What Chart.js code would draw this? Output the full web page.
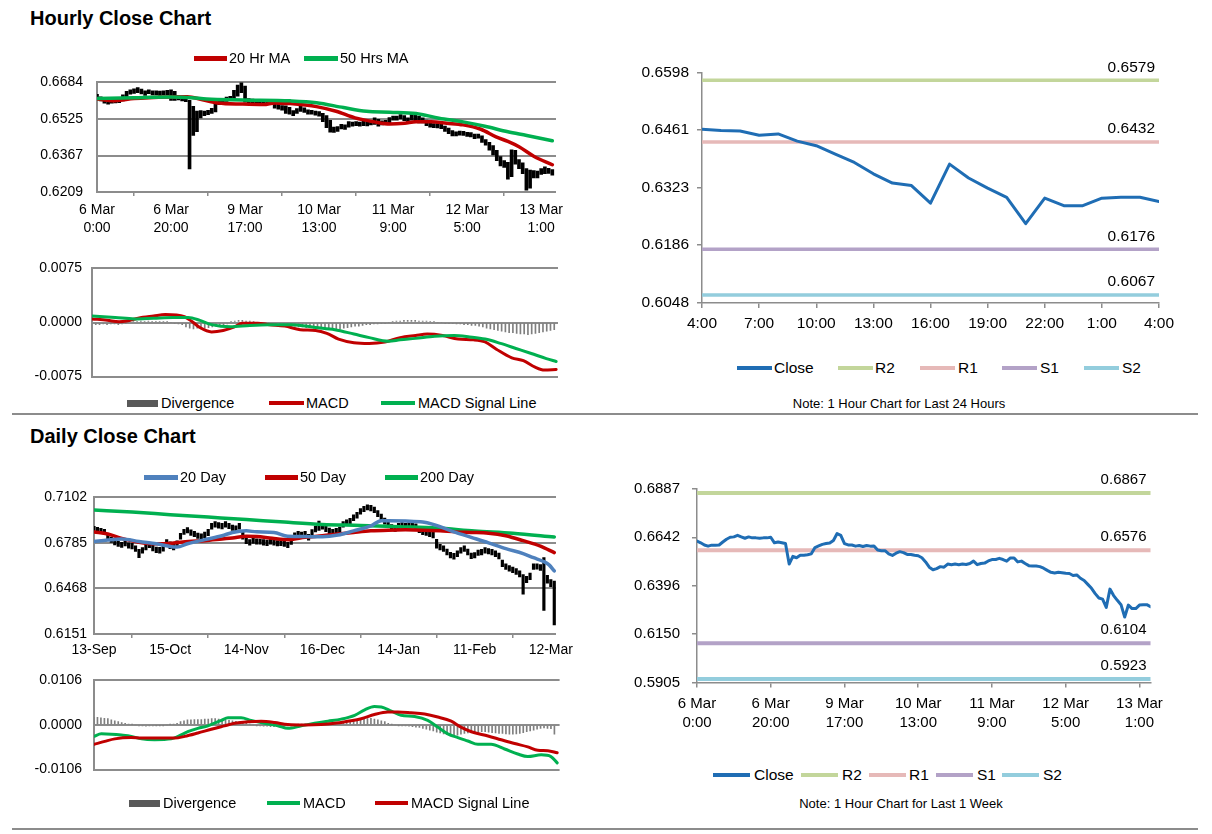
<!DOCTYPE html>
<html><head><meta charset="utf-8">
<script src="https://cdn.jsdelivr.net/npm/chart.js@4"></script>
<style>
body{margin:0;background:#fff;width:1212px;height:834px;position:relative;overflow:hidden;font-family:"Liberation Sans",Arial,sans-serif;color:#000}
.abs{position:absolute}
canvas{position:absolute}
.title{position:absolute;font-weight:bold;font-size:20px;line-height:20px;white-space:nowrap}
.lg{position:absolute;white-space:nowrap}
.note{position:absolute;white-space:nowrap;font-size:13px;line-height:13px;transform:translateX(-50%)}
</style></head><body>
<div class="title" style="left:30px;top:8px">Hourly Close Chart</div>
<div class="title" style="left:30px;top:426px">Daily Close Chart</div>
<div class="abs" style="left:12px;top:413px;width:1186px;height:2px;background:#8c8c8c"></div>
<div class="abs" style="left:12px;top:828px;width:1186px;height:2px;background:#8c8c8c"></div>
<div class="note" style="left:899px;top:397px">Note: 1 Hour Chart for Last 24 Hours</div>
<div class="note" style="left:901px;top:797px">Note: 1 Hour Chart for Last 1 Week</div>
<script>
// ================= DATA =================
// Hourly (6 Mar 0:00 -> 13 Mar 4:00)
const hourTickLabels = [['6 Mar','0:00'],['6 Mar','20:00'],['9 Mar','17:00'],['10 Mar','13:00'],['11 Mar','9:00'],['12 Mar','5:00'],['13 Mar','1:00']];
const hourTickStep = 20;
const hourlyClose = [
0.6623,0.6614,0.6603,0.6597,0.6602,0.6602,0.6603,0.6618,0.6632,0.6642,
0.6644,0.6652,0.6644,0.6637,0.6644,0.6639,0.6639,0.6637,0.6639,0.6639,
0.6642,0.6614,0.6618,0.6614,0.6610,0.6506,0.6545,0.6538,0.6551,0.6551,
0.6553,0.6558,0.6590,0.6598,0.6606,0.6610,0.6613,0.6626,0.6661,0.6652,
0.6610,0.6603,0.6603,0.6597,0.6600,0.6595,0.6600,0.6597,0.6598,0.6577,
0.6574,0.6574,0.6558,0.6550,0.6561,0.6569,0.6564,0.6555,0.6555,0.6551,
0.6548,0.6538,0.6517,0.6490,0.6477,0.6483,0.6493,0.6490,0.6506,0.6503,
0.6506,0.6503,0.6506,0.6504,0.6509,0.6521,0.6503,0.6509,0.6511,0.6522,
0.6529,0.6529,0.6535,0.6529,0.6521,0.6537,0.6537,0.6517,0.6521,0.6509,
0.6498,0.6496,0.6496,0.6493,0.6485,0.6474,0.6464,0.6461,0.6464,0.6462,
0.6459,0.6458,0.6448,0.6451,0.6434,0.6423,0.6403,0.6383,0.6356,0.6334,
0.6328,0.6286,0.6379,0.6346,0.6322,0.6300,0.6237,0.6298,0.6280,0.6280,
0.6298,0.6300,0.6300,0.6290];
const hourlyHigh = [
0.6632,0.6622,0.6612,0.6606,0.6610,0.6611,0.6616,0.6630,0.6645,0.6652,
0.6656,0.6662,0.6655,0.6648,0.6652,0.6648,0.6647,0.6646,0.6648,0.6650,
0.6652,0.6645,0.6626,0.6624,0.6620,0.6606,0.6580,0.6560,0.6562,0.6560,
0.6563,0.6572,0.6601,0.6608,0.6615,0.6620,0.6624,0.6650,0.6672,0.6690,
0.6668,0.6614,0.6612,0.6607,0.6610,0.6604,0.6610,0.6606,0.6608,0.6600,
0.6584,0.6582,0.6576,0.6562,0.6570,0.6580,0.6574,0.6565,0.6563,0.6560,
0.6557,0.6550,0.6540,0.6520,0.6490,0.6492,0.6502,0.6500,0.6514,0.6512,
0.6514,0.6512,0.6515,0.6513,0.6518,0.6530,0.6524,0.6517,0.6520,0.6531,
0.6538,0.6538,0.6545,0.6540,0.6530,0.6546,0.6547,0.6538,0.6530,0.6521,
0.6510,0.6505,0.6505,0.6502,0.6495,0.6486,0.6475,0.6470,0.6473,0.6472,
0.6468,0.6467,0.6460,0.6460,0.6452,0.6436,0.6424,0.6410,0.6390,0.6362,
0.6345,0.6338,0.6392,0.6390,0.6350,0.6335,0.6310,0.6304,0.6302,0.6300,
0.6310,0.6318,0.6312,0.6306];
const hourlyLow = [
0.6612,0.6604,0.6594,0.6590,0.6594,0.6595,0.6596,0.6604,0.6620,0.6633,
0.6636,0.6640,0.6634,0.6628,0.6635,0.6630,0.6630,0.6628,0.6630,0.6630,
0.6606,0.6606,0.6608,0.6604,0.6600,0.6309,0.6454,0.6470,0.6530,0.6540,
0.6544,0.6550,0.6556,0.6588,0.6596,0.6602,0.6605,0.6612,0.6624,0.6640,
0.6598,0.6594,0.6592,0.6588,0.6590,0.6586,0.6591,0.6588,0.6572,0.6568,
0.6564,0.6550,0.6546,0.6540,0.6550,0.6558,0.6554,0.6546,0.6546,0.6542,
0.6538,0.6514,0.6488,0.6468,0.6467,0.6472,0.6482,0.6480,0.6490,0.6494,
0.6496,0.6494,0.6497,0.6495,0.6500,0.6502,0.6494,0.6500,0.6502,0.6510,
0.6520,0.6520,0.6526,0.6518,0.6512,0.6520,0.6515,0.6508,0.6508,0.6496,
0.6490,0.6488,0.6487,0.6484,0.6472,0.6462,0.6452,0.6452,0.6455,0.6454,
0.6450,0.6448,0.6440,0.6442,0.6424,0.6412,0.6390,0.6370,0.6345,0.6322,
0.6315,0.6265,0.6275,0.6330,0.6310,0.6288,0.6217,0.6226,0.6270,0.6270,
0.6285,0.6288,0.6290,0.6282];
const ma20Hr = [[0,0.6612],[4.8,0.6605],[10,0.6614],[19.8,0.6621],[24.4,0.6622],[28.5,0.6609],[32.7,0.6595],[39.4,0.6590],[45,0.6588],[48.1,0.6595],[52.2,0.6592],[56.3,0.6586],[59.3,0.6579],[64.6,0.6559],[69.7,0.6530],[74.9,0.6513],[79.1,0.6504],[83.1,0.6507],[86.2,0.6513],[90.3,0.6513],[94.5,0.6507],[98.9,0.6500],[103.7,0.6481],[107.8,0.6448],[111,0.6428],[114,0.6405],[118.1,0.6363],[123,0.6327]];
const ma50Hr = [[0,0.6614],[10,0.6618],[19.8,0.6621],[25.5,0.6618],[29.6,0.6612],[39.4,0.6608],[52.2,0.6604],[59.3,0.6596],[66.6,0.6575],[72.8,0.6559],[79.1,0.6555],[86.2,0.6549],[92.4,0.6529],[98.9,0.6513],[104.8,0.6494],[111,0.6470],[116.1,0.6454],[123,0.6431]];
const hourlyPriceTicks = [0.6209,0.6367,0.6525,0.6684];
const hourlyMacd = [[0,0.0005],[4.1,0.0003],[7.2,0.0001],[9.2,0.0002],[12.3,0.0006],[16.4,0.0009],[19.5,0.0011],[24.6,0.0008],[26.7,0.0001],[28.7,-0.0007],[31.8,-0.0013],[34.9,-0.0011],[37.9,-0.0006],[40,-0.0001],[44.1,-0.0001],[47.2,-0.0003],[51.3,-0.0005],[55.4,-0.0010],[59.5,-0.0011],[62.5,-0.0015],[65.6,-0.0023],[69.7,-0.0028],[73.8,-0.0029],[77.9,-0.0027],[82,-0.0021],[86.1,-0.0018],[89.2,-0.0016],[93.3,-0.0018],[97.4,-0.0023],[101.5,-0.0024],[104.6,-0.0027],[107.6,-0.0037],[111.7,-0.0049],[114.8,-0.0053],[117.9,-0.0062],[120.4,-0.0066],[123.5,-0.0065]];
const hourlySignal = [[0,0.0009],[6.2,0.0007],[11.3,0.0005],[16.4,0.0006],[21.5,0.0007],[25.6,0.0007],[28.7,0.0003],[31.8,-0.0003],[36.9,-0.0006],[42,-0.0004],[47.2,-0.0003],[53.3,-0.0003],[59.5,-0.0007],[64.6,-0.0010],[69.7,-0.0016],[73.8,-0.0021],[78.9,-0.0026],[82,-0.0024],[86.1,-0.0022],[91.2,-0.0019],[96.4,-0.0018],[100.5,-0.0020],[104.6,-0.0023],[108.7,-0.0029],[112.8,-0.0036],[116.9,-0.0043],[120.9,-0.0050],[123.5,-0.0054]];
const hourlyDivergence = [
-0.0002,-0.0003,-0.0003,-0.0002,-0.0003,-0.0002,-0.0002,-0.0003,-0.0002,-0.0001,
0.0001,0.0001,0.0001,0.0002,0.0001,0.0002,0.0001,0.0001,0.0001,0.0001,
0.0001,0.0000,-0.0001,-0.0002,-0.0003,-0.0006,-0.0008,-0.0009,-0.0008,-0.0009,
-0.0008,-0.0007,-0.0006,-0.0005,-0.0004,-0.0004,-0.0002,0.0001,0.0002,0.0003,
0.0003,0.0002,0.0002,0.0001,0.0000,0.0000,-0.0001,0.0000,-0.0001,-0.0001,
-0.0002,-0.0003,-0.0004,-0.0005,-0.0005,-0.0006,-0.0006,-0.0007,-0.0007,-0.0008,
-0.0008,-0.0009,-0.0009,-0.0010,-0.0010,-0.0009,-0.0009,-0.0008,-0.0007,-0.0006,
-0.0005,-0.0005,-0.0004,-0.0003,-0.0003,-0.0002,-0.0002,-0.0001,-0.0001,0.0000,
0.0001,0.0002,0.0002,0.0003,0.0003,0.0003,0.0003,0.0002,0.0002,0.0002,
0.0001,0.0001,0.0000,0.0000,-0.0001,-0.0001,-0.0001,-0.0002,-0.0002,-0.0003,
-0.0003,-0.0004,-0.0004,-0.0005,-0.0006,-0.0008,-0.0009,-0.0010,-0.0011,-0.0012,
-0.0013,-0.0014,-0.0014,-0.0015,-0.0016,-0.0016,-0.0017,-0.0016,-0.0015,-0.0014,
-0.0013,-0.0012,-0.0011,-0.0010];
const hourlyMacdTicks = [-0.0075,0,0.0075];

// Last 24 hours / last week pivot charts
const last24Ticks = ['4:00','7:00','10:00','13:00','16:00','19:00','22:00','1:00','4:00'];
const last24Step = 3;
const last24Count = 25;
const last24PriceTicks = [0.6048,0.6186,0.6323,0.6461,0.6598];
const levelNames = ['R2','R1','S1','S2'];
const levels24 = [0.6579,0.6432,0.6176,0.6067];
const levelsWeek = [0.6867,0.6576,0.6104,0.5923];
const weekPriceTicks = [0.5905,0.6150,0.6396,0.6642,0.6887];

// Daily (13-Sep -> 13-Mar)
const dayTickLabels = ['13-Sep','15-Oct','14-Nov','16-Dec','14-Jan','11-Feb','12-Mar'];
const dayTickStep = 22;
const dailyHigh = [
0.6900,0.6893,0.6886,0.6880,0.6848,0.6826,0.6808,0.6797,0.6790,0.6800,
0.6786,0.6782,0.6765,0.6740,0.6752,0.6774,0.6790,0.6768,0.6756,0.6754,
0.6770,0.6808,0.6792,0.6775,0.6800,0.6852,0.6880,0.6892,0.6876,0.6865,
0.6853,0.6848,0.6860,0.6880,0.6922,0.6934,0.6926,0.6922,0.6934,0.6922,
0.6910,0.6904,0.6922,0.6870,0.6820,0.6808,0.6820,0.6813,0.6812,0.6808,
0.6804,0.6813,0.6808,0.6801,0.6804,0.6797,0.6790,0.6815,0.6855,0.6866,
0.6860,0.6866,0.6845,0.6878,0.6900,0.6937,0.6918,0.6902,0.6888,0.6880,
0.6887,0.6895,0.6934,0.6945,0.6956,0.6980,0.6998,0.7024,0.7040,0.7050,
0.7046,0.7035,0.7010,0.6986,0.6958,0.6934,0.6912,0.6904,0.6922,0.6926,
0.6922,0.6926,0.6930,0.6918,0.6896,0.6880,0.6876,0.6866,0.6860,0.6810,
0.6775,0.6764,0.6742,0.6720,0.6712,0.6730,0.6752,0.6764,0.6742,0.6714,
0.6718,0.6736,0.6740,0.6752,0.6745,0.6740,0.6730,0.6715,0.6665,0.6640,
0.6628,0.6617,0.6606,0.6590,0.6565,0.6552,0.6575,0.6640,0.6640,0.6634,
0.6683,0.6560,0.6530,0.6519];
const dailyLow = [
0.6862,0.6855,0.6850,0.6842,0.6806,0.6788,0.6772,0.6760,0.6754,0.6764,
0.6748,0.6744,0.6726,0.6682,0.6714,0.6736,0.6752,0.6730,0.6718,0.6714,
0.6728,0.6770,0.6745,0.6736,0.6758,0.6812,0.6844,0.6855,0.6838,0.6828,
0.6816,0.6810,0.6820,0.6836,0.6880,0.6894,0.6888,0.6882,0.6894,0.6884,
0.6872,0.6866,0.6880,0.6812,0.6780,0.6770,0.6782,0.6776,0.6776,0.6770,
0.6766,0.6776,0.6770,0.6764,0.6766,0.6760,0.6752,0.6775,0.6815,0.6828,
0.6822,0.6828,0.6804,0.6838,0.6862,0.6872,0.6880,0.6864,0.6850,0.6843,
0.6850,0.6856,0.6894,0.6906,0.6918,0.6940,0.6958,0.6985,0.7002,0.7014,
0.7008,0.6996,0.6968,0.6946,0.6916,0.6894,0.6872,0.6866,0.6884,0.6888,
0.6884,0.6888,0.6892,0.6880,0.6856,0.6842,0.6838,0.6828,0.6820,0.6748,
0.6736,0.6726,0.6702,0.6680,0.6672,0.6690,0.6714,0.6726,0.6702,0.6675,
0.6680,0.6698,0.6702,0.6714,0.6708,0.6702,0.6690,0.6674,0.6620,0.6600,
0.6588,0.6578,0.6566,0.6548,0.6429,0.6508,0.6530,0.6600,0.6602,0.6594,
0.6316,0.6505,0.6480,0.6214];
const ma20Day = [[0,0.6795],[4,0.6806],[8,0.6813],[13,0.6795],[18,0.6779],[24,0.6756],[27,0.6779],[32,0.6808],[37,0.6835],[40,0.6858],[44,0.6869],[47,0.6862],[52,0.6858],[56,0.6831],[61,0.6829],[66,0.6828],[70.5,0.6840],[75,0.6869],[80,0.6903],[83,0.6940],[85,0.6940],[90,0.6937],[95,0.6930],[98,0.6914],[100,0.6899],[104.5,0.6858],[109,0.6824],[114,0.6786],[119,0.6745],[124,0.6711],[127,0.6682],[130,0.6655],[131.5,0.6632],[133,0.6590]];
const ma50Day = [[0,0.6862],[4,0.6847],[8,0.6817],[13,0.6790],[17.6,0.6779],[22.5,0.6783],[27.3,0.6795],[32,0.6801],[37,0.6813],[40,0.6820],[44,0.6831],[47,0.6829],[51.5,0.6817],[56.4,0.6808],[61,0.6824],[66,0.6835],[70.5,0.6847],[75,0.6858],[80,0.6869],[85,0.6874],[90,0.6876],[95,0.6874],[100,0.6869],[104.5,0.6862],[109,0.6858],[114,0.6853],[119,0.6835],[124,0.6801],[129,0.6763],[133,0.6718]];
const ma200Day = [[0,0.7014],[11,0.7000],[22,0.6982],[33,0.6965],[44,0.6948],[55,0.6930],[66,0.6914],[77,0.6907],[88,0.6898],[99,0.6889],[110,0.6868],[121,0.6852],[133,0.6826]];
const dailyPriceTicks = [0.6151,0.6468,0.6785,0.7102];
const dailyMacd = [[0,-0.0027],[2.1,-0.0021],[5,-0.0022],[7.9,-0.0024],[10.8,-0.0027],[13.7,-0.0033],[17.5,-0.0035],[22.3,-0.0033],[24.3,-0.0027],[27.1,-0.0016],[30,-0.0008],[32.9,-0.0002],[36.8,0.0011],[38.7,0.0017],[42.5,0.0017],[45.4,0.0011],[49.3,0.0004],[53.1,-0.0002],[56,-0.0008],[59.9,-0.0002],[63.7,0.0004],[67.6,0.0009],[71.4,0.0014],[75.3,0.0023],[78.2,0.0036],[81,0.0044],[83,0.0043],[85.9,0.0033],[88.7,0.0023],[92.6,0.0020],[96.4,0.0011],[99.3,-0.0005],[102.2,-0.0021],[105.1,-0.0030],[108,-0.0038],[110.9,-0.0046],[114.7,-0.0046],[118.6,-0.0057],[122.4,-0.0069],[125.3,-0.0075],[129.2,-0.0071],[132,-0.0075],[133.8,-0.0090]];
const dailySignal = [[0,-0.0046],[3.1,-0.0039],[6,-0.0033],[10.8,-0.0030],[13.7,-0.0031],[17.5,-0.0031],[23.3,-0.0031],[26.2,-0.0027],[30,-0.0019],[33.9,-0.0010],[37.7,-0.0002],[40.6,0.0004],[44.5,0.0008],[48.3,0.0009],[52.2,0.0006],[56,0.0001],[60.8,0.0000],[65.6,0.0001],[69.5,0.0004],[73.3,0.0009],[77.2,0.0015],[81,0.0025],[84.9,0.0031],[87.8,0.0031],[91.6,0.0029],[95.5,0.0026],[99.3,0.0019],[103.2,0.0009],[106,-0.0005],[109,-0.0016],[113.8,-0.0026],[117.6,-0.0035],[121.5,-0.0044],[125.3,-0.0052],[128.2,-0.0060],[131.1,-0.0061],[133.8,-0.0066]];
const dailyDivergence = [
0.0018,0.0018,0.0017,0.0016,0.0015,0.0012,0.0010,0.0008,0.0006,0.0004,
0.0002,0.0001,0.0000,-0.0002,-0.0002,-0.0003,-0.0002,-0.0002,-0.0001,-0.0001,
-0.0001,0.0000,0.0001,0.0002,0.0004,0.0008,0.0010,0.0012,0.0012,0.0013,
0.0013,0.0013,0.0014,0.0014,0.0015,0.0015,0.0014,0.0013,0.0012,0.0011,
0.0010,0.0009,0.0008,0.0006,0.0004,0.0002,0.0000,-0.0001,-0.0002,-0.0003,
-0.0003,-0.0004,-0.0004,-0.0004,-0.0003,-0.0003,-0.0002,-0.0001,0.0000,0.0001,
0.0001,0.0002,0.0002,0.0003,0.0003,0.0004,0.0004,0.0005,0.0005,0.0005,
0.0006,0.0006,0.0007,0.0008,0.0009,0.0010,0.0012,0.0013,0.0015,0.0015,
0.0016,0.0014,0.0012,0.0010,0.0008,0.0004,0.0001,0.0000,-0.0001,-0.0002,
-0.0002,-0.0003,-0.0004,-0.0005,-0.0006,-0.0008,-0.0010,-0.0012,-0.0014,-0.0017,
-0.0019,-0.0021,-0.0023,-0.0024,-0.0025,-0.0024,-0.0022,-0.0020,-0.0019,-0.0018,
-0.0017,-0.0017,-0.0016,-0.0016,-0.0017,-0.0018,-0.0019,-0.0020,-0.0020,-0.0021,
-0.0022,-0.0022,-0.0021,-0.0020,-0.0018,-0.0016,-0.0014,-0.0012,-0.0010,-0.0008,
-0.0007,-0.0008,-0.0009,-0.0022];
const dailyMacdTicks = [-0.0106,0,0.0106];

// ================= STYLE =================
const FONT = "'Liberation Sans', Arial, sans-serif";
const GRID = '#8c8c8c';
const RED = '#c00000', GREEN = '#00b050', BLUE20 = '#4f81bd', CLOSE = '#1f6db4', DIV = '#7f7f7f';
const LEVEL_COLORS = ['#c3d69b','#e6b9b8','#b3a2c7','#93cddd'];

const pts = a => a.map(([x,y]) => ({x, y}));
const fmt = v => (Math.abs(v) < 1e-12 ? 0 : v).toFixed(4);

function yAxis(o){
  return {
    type:'linear', min:o.min, max:o.max,
    afterBuildTicks: ax => { ax.ticks = o.ticks.map(v => ({value:v})); },
    afterFit: ax => { ax.width = o.w; },
    grid:{display:true, drawOnChartArea:!!o.gridLines, drawTicks:!!o.tickMarks, tickLength:5, color:GRID, lineWidth:o.gridW||2},
    border:{display:true, color:GRID, width:o.borderW||2},
    ticks:{padding:o.pad, color:'#000', font:{family:FONT, size:o.size}, callback:v => fmt(v)}
  };
}
function xAxis(o){
  return {
    type:'linear', min:0, max:o.max, offset:false,
    afterBuildTicks: ax => { ax.ticks = o.labels.map((_,k) => ({value:k*o.step})); },
    afterFit: ax => { ax.height = o.h; },
    grid:{display:true, drawOnChartArea:false, drawTicks:true, tickLength:o.tickLen, color:GRID, lineWidth:1.5},
    border:{display:!!o.border, color:GRID, width:o.borderW||1.5},
    ticks:{autoSkip:false, maxRotation:0, minRotation:0, padding:o.pad, color:'#000',
      font:{family:FONT, size:o.size, lineHeight:o.lh}, callback:(v,i) => o.labels[i]}
  };
}
function lineDS(label, data, color, width, order, smooth){
  return {type:'line', label, data, borderColor:color, backgroundColor:color, borderWidth:width,
    pointRadius:0, order, tension:0, cubicInterpolationMode: smooth ? 'monotone' : 'default', borderJoinStyle:'round', borderCapStyle:'round'};
}
function levelLabels(levels, size){
  return {id:'levelLabels', afterDatasetsDraw(chart){
    const {ctx, chartArea, scales} = chart;
    ctx.save(); ctx.font = size + 'px ' + FONT; ctx.fillStyle = '#000';
    ctx.textAlign = 'right'; ctx.textBaseline = 'middle';
    levels.forEach(v => ctx.fillText(v.toFixed(4), chartArea.right - 4, scales.y.getPixelForValue(v) - 13));
    ctx.restore();
  }};
}
// create a chart on an absolutely placed canvas, then nudge the layout padding
// so that the plot area lands on the wanted page box {l,t,r,b}
function mk(left, top, w, h, cfg, box){
  const c = document.createElement('canvas');
  c.width = w; c.height = h;
  c.style.cssText = `left:${left}px;top:${top}px;width:${w}px;height:${h}px`;
  document.body.appendChild(c);
  const pad = {left:0, top:box.t - top, right:left + w - box.r, bottom:top + h - box.b};
  cfg.options = Object.assign({responsive:false, animation:false, events:[],
    layout:{autoPadding:false, padding:pad},
    plugins:{legend:{display:false}, tooltip:{enabled:false}}}, cfg.options);
  const chart = new Chart(c, cfg);
  for (let k = 0; k < 3; k++){
    const ca = chart.chartArea;
    const dT = (box.t - top) - ca.top, dB = ca.bottom - (box.b - top);
    const dL = (box.l - left) - ca.left, dR = ca.right - (box.r - left);
    if (Math.abs(dT) + Math.abs(dB) + Math.abs(dL) + Math.abs(dR) < 0.5) break;
    pad.top += dT; pad.bottom += dB; pad.left += dL; pad.right += dR;
    chart.update();
  }
  return chart;
}
function legend(items, size){
  items.forEach(it => {
    const s = document.createElement('div');
    s.className = 'abs';
    const t = it.box ? 7 : (it.t || 4);
    s.style.cssText = `left:${it.x}px;top:${it.y - t/2}px;width:${it.w}px;height:${t}px;background:${it.color}`;
    document.body.appendChild(s);
    const d = document.createElement('div');
    d.className = 'lg';
    d.textContent = it.text;
    d.style.cssText = `left:${it.tx}px;top:${it.y - 0.5*size}px;font-size:${size}px;line-height:${size}px`;
    document.body.appendChild(d);
  });
}

// ============ CHART A: hourly close ============
mk(10, 60, 570, 180, {
  type:'bar',
  data:{datasets:[
    lineDS('20 Hr MA', pts(ma20Hr), RED, 3.5, 1, true),
    lineDS('50 Hrs MA', pts(ma50Hr), GREEN, 3.5, 0, true),
    {type:'bar', label:'Hourly', data:hourlyLow.map((l,i) => ({x:i, y:[l, hourlyHigh[i]]})), backgroundColor:'#000', barThickness:3, order:2}
  ]},
  options:{scales:{
      x:xAxis({max:124, step:hourTickStep, labels:hourTickLabels, h:48, pad:5, size:14, lh:1.29, tickLen:4}),
      y:yAxis({min:0.6209, max:0.6684, ticks:hourlyPriceTicks, w:87, pad:14, size:14, gridLines:true})
    }}
}, {l:97, t:73, r:556, b:192});
legend([
  {x:194, w:33, t:5, color:RED, tx:229, y:58, text:'20 Hr MA'},
  {x:304, w:34, t:5, color:GREEN, tx:340, y:58, text:'50 Hrs MA'}
], 14.5);

// ============ CHART B: hourly MACD ============
mk(10, 250, 570, 145, {
  type:'bar',
  data:{datasets:[
    lineDS('MACD', pts(hourlyMacd), RED, 3, 1, true),
    lineDS('MACD Signal Line', pts(hourlySignal), GREEN, 3, 0, true),
    {type:'bar', label:'Divergence', data:hourlyDivergence.map((v,i) => ({x:i, y:v})), backgroundColor:DIV, barThickness:1, order:2}
  ]},
  options:{scales:{
      x:{type:'linear', display:false, min:0, max:124, offset:false},
      y:yAxis({min:-0.0075, max:0.0075, ticks:hourlyMacdTicks, w:82, pad:10, size:14, gridLines:true})
    }}
}, {l:92, t:261, r:558, b:384});
legend([
  {x:127, w:31, box:true, color:'#595959', tx:161, y:403, text:'Divergence'},
  {x:269, w:35, t:4, color:RED, tx:306, y:403, text:'MACD'},
  {x:381, w:34, t:4, color:GREEN, tx:418, y:403, text:'MACD Signal Line'}
], 14.5);

// ============ CHART C: last 24 hours ============
const close24 = hourlyClose.slice(-last24Count);
mk(610, 55, 580, 290, {
  type:'line',
  data:{datasets:[
    lineDS('Close', close24.map((v,i) => ({x:i, y:v})), CLOSE, 3, 0, false),
    ...levels24.map((v,k) => lineDS(levelNames[k], [{x:0, y:v}, {x:last24Count-1, y:v}], LEVEL_COLORS[k], 3.5, 1, false))
  ]},
  options:{scales:{
      x:xAxis({max:last24Count-1, step:last24Step, labels:last24Ticks, h:42, pad:6, size:15.5, lh:1.2, tickLen:5, border:true}),
      y:yAxis({min:0.6048, max:0.6598, ticks:last24PriceTicks, w:92, pad:8, size:15.5, tickMarks:true, gridW:1.5, borderW:1.5})
    }},
  plugins:[levelLabels(levels24, 15.5)]
}, {l:702, t:69, r:1159, b:303});
legend([
  {x:737, w:35, t:4, color:CLOSE, tx:774, y:368, text:'Close'},
  {x:838, w:35, t:4, color:LEVEL_COLORS[0], tx:875, y:368, text:levelNames[0]},
  {x:920, w:35, t:4, color:LEVEL_COLORS[1], tx:958, y:368, text:levelNames[1]},
  {x:1002, w:35, t:4, color:LEVEL_COLORS[2], tx:1040, y:368, text:levelNames[2]},
  {x:1084, w:35, t:4, color:LEVEL_COLORS[3], tx:1122, y:368, text:levelNames[3]}
], 15.5);

// ============ CHART D: daily close ============
mk(10, 482, 570, 180, {
  type:'bar',
  data:{datasets:[
    lineDS('20 Day', pts(ma20Day), BLUE20, 3.5, 0, true),
    lineDS('50 Day', pts(ma50Day), RED, 3.5, 1, true),
    lineDS('200 Day', pts(ma200Day), GREEN, 3.5, 1, true),
    {type:'bar', label:'Daily', data:dailyLow.map((l,i) => ({x:i, y:[l, dailyHigh[i]]})), backgroundColor:'#000', barThickness:2.5, order:2}
  ]},
  options:{scales:{
      x:xAxis({max:133.5, step:dayTickStep, labels:dayTickLabels, h:28, pad:4, size:14, lh:1.2, tickLen:4}),
      y:yAxis({min:0.6151, max:0.7102, ticks:dailyPriceTicks, w:84, pad:7, size:14, gridLines:true})
    }}
}, {l:94, t:494, r:556, b:634});
legend([
  {x:144, w:34, t:5, color:BLUE20, tx:180, y:477, text:'20 Day'},
  {x:265, w:33, t:5, color:RED, tx:300, y:477, text:'50 Day'},
  {x:385, w:33, t:5, color:GREEN, tx:420, y:477, text:'200 Day'}
], 14.5);

// ============ CHART E: daily MACD ============
mk(10, 660, 570, 130, {
  type:'bar',
  data:{datasets:[
    lineDS('MACD', pts(dailyMacd), GREEN, 3, 1, true),
    lineDS('MACD Signal Line', pts(dailySignal), RED, 3, 0, true),
    {type:'bar', label:'Divergence', data:dailyDivergence.map((v,i) => ({x:i, y:v})), backgroundColor:DIV, barThickness:1, order:2}
  ]},
  options:{scales:{
      x:{type:'linear', display:false, min:0, max:134.5, offset:false},
      y:yAxis({min:-0.0106, max:0.0106, ticks:dailyMacdTicks, w:84, pad:12, size:14, gridLines:true})
    }}
}, {l:94, t:671, r:559.6, b:782});
legend([
  {x:129, w:31, box:true, color:'#595959', tx:163, y:803, text:'Divergence'},
  {x:267, w:33, t:4, color:GREEN, tx:303, y:803, text:'MACD'},
  {x:375, w:33, t:4, color:RED, tx:411, y:803, text:'MACD Signal Line'}
], 14.5);

// ============ CHART F: last week ============
mk(610, 468, 570, 280, {
  type:'line',
  data:{datasets:[
    lineDS('Close', hourlyClose.map((v,i) => ({x:i, y:v})), CLOSE, 3, 0, false),
    ...levelsWeek.map((v,k) => lineDS(levelNames[k], [{x:0, y:v}, {x:hourlyClose.length-1, y:v}], LEVEL_COLORS[k], 4, 1, false))
  ]},
  options:{scales:{
      x:xAxis({max:hourlyClose.length-1, step:hourTickStep, labels:hourTickLabels, h:65.5, pad:7, size:15, lh:1.27, tickLen:5, border:true}),
      y:yAxis({min:0.5905, max:0.6887, ticks:weekPriceTicks, w:87, pad:12, size:15, tickMarks:true, gridW:1.5, borderW:1.5})
    }},
  plugins:[levelLabels(levelsWeek, 15)]
}, {l:697, t:482, r:1150.5, b:682.5});
legend([
  {x:713, w:37, t:4, color:CLOSE, tx:754, y:775, text:'Close'},
  {x:801, w:37, t:4, color:LEVEL_COLORS[0], tx:842, y:775, text:levelNames[0]},
  {x:869, w:37, t:4, color:LEVEL_COLORS[1], tx:909, y:775, text:levelNames[1]},
  {x:936, w:37, t:4, color:LEVEL_COLORS[2], tx:977, y:775, text:levelNames[2]},
  {x:1002, w:37, t:4, color:LEVEL_COLORS[3], tx:1043, y:775, text:levelNames[3]}
], 15.5);
</script>
</body></html>
